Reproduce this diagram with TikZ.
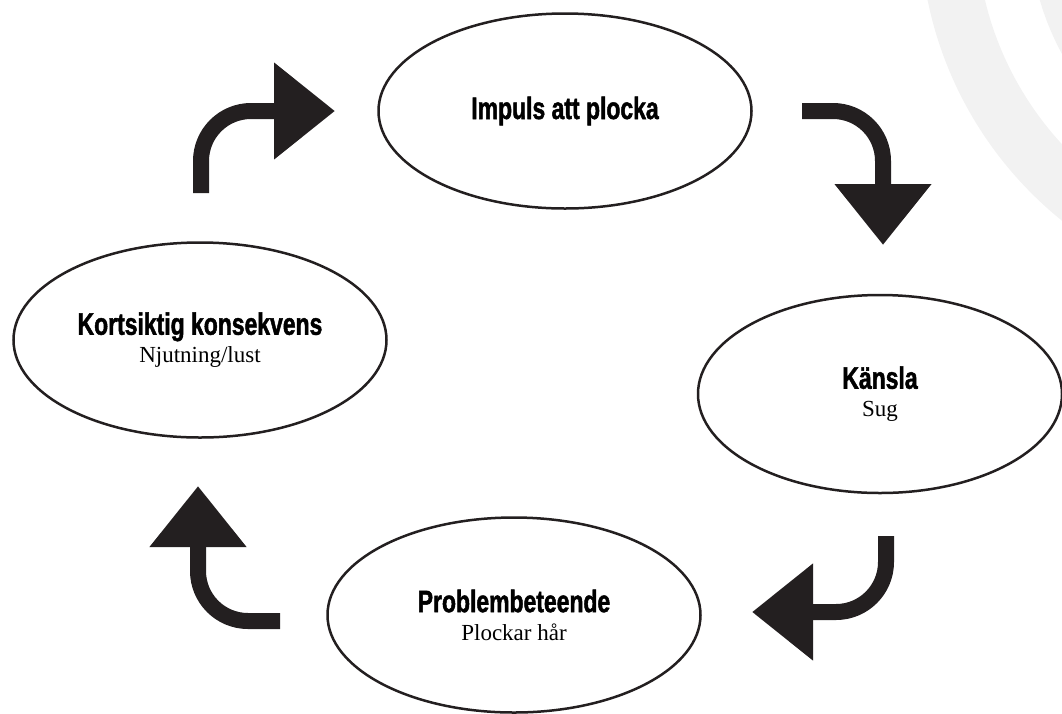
\documentclass[tikz,border=0pt]{standalone}
\usepackage{fontspec}
\setmainfont{Liberation Serif}
\newfontfamily\headfont[FakeStretch=0.74,FakeBold=1.5]{Liberation Sans}
\usetikzlibrary{shapes.geometric,arrows.meta}

\definecolor{inkblack}{HTML}{231F20}
\definecolor{arcgray}{HTML}{F2F2F2}

\newcommand{\stagehead}[1]{{\headfont\bfseries\fontsize{31}{30}\selectfont #1}}

\begin{document}
\begin{tikzpicture}[x=1pt,y=-1pt,
  stage/.style={draw=inkblack,line width=2.5pt,ellipse,inner sep=0pt,align=center,
    minimum width=373pt,minimum height=195pt,font=\fontsize{23}{28}\selectfont},
  flow/.style={draw=inkblack,line width=16pt,rounded corners=50pt,
    -{Triangle[width=93pt,length=61pt]}}]

\path [use as bounding box] (0,0) rectangle (1062,713);

% light arcs in the corner
\begin{scope}
\clip (0,0) rectangle (1062,713);
\fill [arcgray,even odd rule] (1301,-76) circle (381pt) (1301,-76) circle (325pt);
\fill [arcgray,even odd rule] (1301,-76) circle (272pt) (1301,-76) circle (216pt);
\end{scope}

\node (impuls) at (565,111) [stage] {\stagehead{Impuls att plocka}};
\node (kansla) at (880,394) [stage,minimum width=364pt,minimum height=198pt] {\stagehead{Känsla}\\Sug};
\node (problem) at (514,615) [stage] {\stagehead{Problembeteende}\\Plockar hår};
\node (kortsiktig) at (200,340) [stage] {\stagehead{Kortsiktig konsekvens}\\Njutning/lust};

\coordinate (a1s) at (201,193);
\coordinate (a1e) at (335,111);
\coordinate (a2s) at (802,111);
\coordinate (a2e) at (883,245);
\coordinate (a3s) at (886,536);
\coordinate (a3e) at (752,612);
\coordinate (a4s) at (280,621);
\coordinate (a4e) at (198,486);

\draw [flow] (a1s) |- (a1e);
\draw [flow] (a2s) -| (a2e);
\draw [flow] (a3s) |- (a3e);
\draw [flow] (a4s) -| (a4e);

\end{tikzpicture}
\end{document}
